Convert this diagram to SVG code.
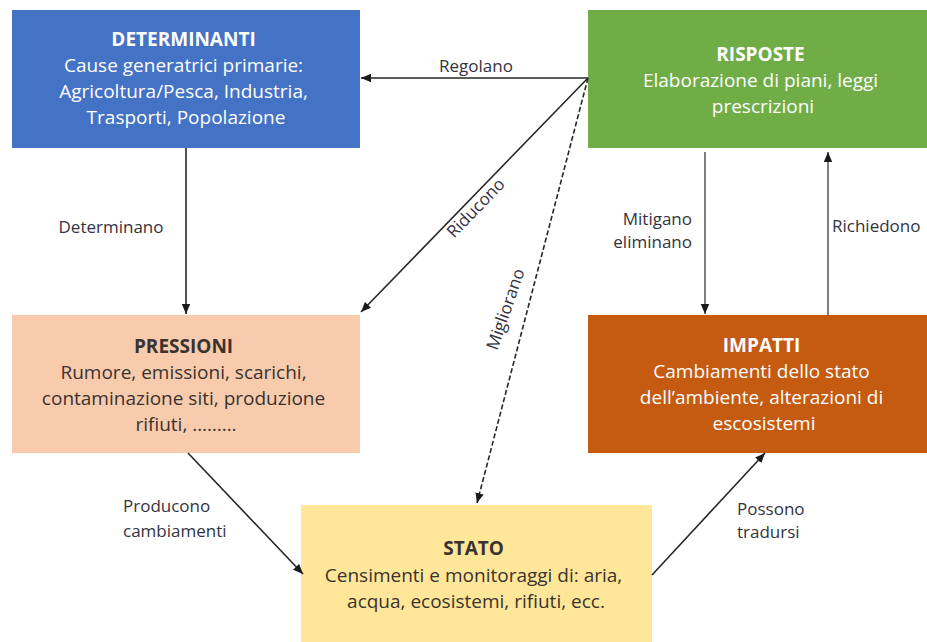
<svg xmlns="http://www.w3.org/2000/svg" width="927" height="642" viewBox="0 0 927 642">
  <style>
    .box-text { font-family: "Open Sans", "Liberation Sans", sans-serif; font-size: 19px; font-weight: 500; text-anchor: middle; }
    .title { font-weight: bold; }
    .light { fill: #ffffff; }
    .dark { fill: #3a3330; }
    .label { font-family: "Open Sans", "Liberation Sans", sans-serif; font-size: 17px; font-weight: 500; fill: #333340; }
    .conn { fill: none; stroke: #262626; stroke-width: 1.6; marker-end: url(#arrow); }
    .thin { stroke: #3a3a3a; stroke-width: 1.3; }
    .dashed { stroke-dasharray: 5 2.5; }
  </style>
  <defs>
    <marker id="arrow" markerUnits="userSpaceOnUse" markerWidth="10" markerHeight="10" viewBox="0 0 10 10" refX="10" refY="5" orient="auto">
      <path d="M0,0.8 L10,5 L0,9.2 z" fill="#1a1a1a"/>
    </marker>
  </defs>
  <rect width="927" height="642" fill="#ffffff"/>

  <!-- DETERMINANTI -->
  <g id="determinanti">
    <rect x="12" y="10" width="348" height="138" fill="#4472c4"/>
    <text class="box-text light">
      <tspan class="title" x="186" y="46">DETERMINANTI</tspan>
      <tspan x="186" y="72">Cause generatrici primarie:</tspan>
      <tspan x="186" y="98">Agricoltura/Pesca, Industria,</tspan>
      <tspan x="186" y="124">Trasporti, Popolazione</tspan>
    </text>
  </g>

  <!-- RISPOSTE -->
  <g id="risposte">
    <rect x="588" y="10" width="348" height="138" fill="#70ad47"/>
    <text class="box-text light">
      <tspan class="title" x="763" y="61">RISPOSTE</tspan>
      <tspan x="763" y="87">Elaborazione di piani, leggi</tspan>
      <tspan x="763" y="113">prescrizioni</tspan>
    </text>
  </g>

  <!-- PRESSIONI -->
  <g id="pressioni">
    <rect x="12" y="315" width="348" height="138" fill="#f8cbad"/>
    <text class="box-text dark">
      <tspan class="title" x="186" y="353">PRESSIONI</tspan>
      <tspan x="186" y="379">Rumore, emissioni, scarichi,</tspan>
      <tspan x="186" y="405">contaminazione siti, produzione</tspan>
      <tspan x="186" y="431">rifiuti, ………</tspan>
    </text>
  </g>

  <!-- IMPATTI -->
  <g id="impatti">
    <rect x="588" y="315" width="348" height="138" fill="#c55a11"/>
    <text class="box-text light">
      <tspan class="title" x="764" y="352">IMPATTI</tspan>
      <tspan x="764" y="378">Cambiamenti dello stato</tspan>
      <tspan x="764" y="404">dell’ambiente, alterazioni di</tspan>
      <tspan x="764" y="430">escosistemi</tspan>
    </text>
  </g>

  <!-- STATO -->
  <g id="stato">
    <rect x="301" y="505" width="351" height="145" fill="#ffe699"/>
    <text class="box-text dark">
      <tspan class="title" x="476" y="555">STATO</tspan>
      <tspan x="476" y="582">Censimenti e monitoraggi di: aria,</tspan>
      <tspan x="476" y="608">acqua, ecosistemi, rifiuti, ecc.</tspan>
    </text>
  </g>

  <!-- connectors -->
  <g id="connectors">
    <line class="conn" x1="588" y1="78" x2="361" y2="78"/>
    <line class="conn" x1="186" y1="148" x2="186" y2="314"/>
    <line class="conn" x1="588" y1="78" x2="361" y2="312"/>
    <line class="conn dashed" x1="588" y1="78" x2="477" y2="503"/>
    <line class="conn thin" x1="705" y1="152" x2="705" y2="314"/>
    <line class="conn thin" x1="828" y1="315" x2="828" y2="152"/>
    <line class="conn" x1="188" y1="453" x2="303" y2="574"/>
    <line class="conn" x1="652" y1="575" x2="765" y2="453"/>

    <text class="label" x="476" y="72" text-anchor="middle">Regolano</text>
    <text class="label" x="111" y="233" text-anchor="middle">Determinano</text>
    <text class="label" transform="translate(480,212) rotate(-46)" text-anchor="middle">Riducono</text>
    <text class="label" transform="translate(511,311) rotate(-71)" text-anchor="middle">Migliorano</text>
    <text class="label" x="692" y="225" text-anchor="end">Mitigano</text>
    <text class="label" x="692" y="248" text-anchor="end">eliminano</text>
    <text class="label" x="832" y="232">Richiedono</text>
    <text class="label" x="123" y="512">Producono</text>
    <text class="label" x="123" y="537">cambiamenti</text>
    <text class="label" x="737" y="515">Possono</text>
    <text class="label" x="737" y="538">tradursi</text>
  </g>
</svg>
